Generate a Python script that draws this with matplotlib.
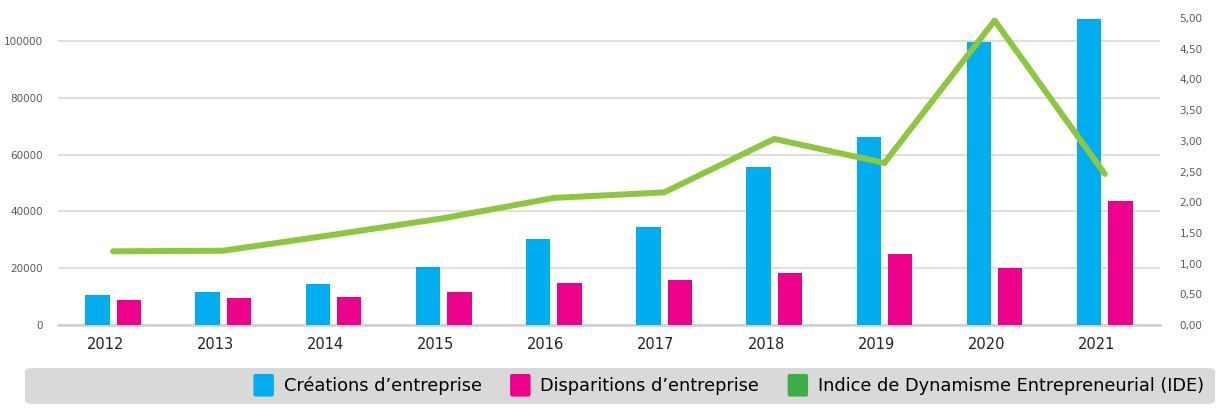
import matplotlib
matplotlib.use("Agg")
import matplotlib.pyplot as plt
import matplotlib.transforms as mtransforms
from matplotlib.patches import FancyBboxPatch, Patch
from matplotlib.legend_handler import HandlerBase
import numpy as np

# data
years = ["2012", "2013", "2014", "2015", "2016", "2017", "2018", "2019", "2020", "2021"]
creations = [10700, 11600, 14600, 20300, 30300, 34500, 55700, 66200, 99800, 107600]
disparitions = [8900, 9600, 9900, 11700, 14800, 15900, 18400, 25100, 20200, 43800]
ide = [1.20, 1.21, 1.47, 1.74, 2.07, 2.16, 3.03, 2.64, 4.96, 2.46]

left_ticks = [0, 20000, 40000, 60000, 80000, 100000]
right_ticks = [0, 0.5, 1, 1.5, 2, 2.5, 3, 3.5, 4, 4.5, 5]

blue = "#00aeef"
pink = "#ec008c"
green_line = "#8dc63f"
green_legend = "#3fae49"


class RoundBoxHandler(HandlerBase):
    # rounded colour swatch for the legend
    def create_artists(self, legend, orig_handle, xdescent, ydescent,
                       width, height, fontsize, trans):
        p = FancyBboxPatch((-xdescent, -ydescent - 2), width, height + 4,
                           boxstyle="round,pad=0,rounding_size=1.5",
                           facecolor=orig_handle.get_facecolor(),
                           edgecolor="none", transform=trans)
        return [p]


fig = plt.figure(figsize=(12.27, 4.18), dpi=100)
ax = fig.add_axes([0.0473, 0.2225, 0.898, 0.7344])

x = np.arange(len(years))
w = 0.221
off = 0.142
ax.bar(x - off, creations, width=w, color=blue, zorder=3)
ax.bar(x + off, disparitions, width=w, color=pink, zorder=3)

ax.set_xlim(-0.5, 9.5)
ax.set_ylim(0, 108100)
ax.set_yticks(left_ticks)
ax.set_yticklabels([str(v) for v in left_ticks])
ax.grid(axis="y", color="#dedede", linewidth=1.4, zorder=0)
ax.set_axisbelow(True)
for s in ["top", "left", "right"]:
    ax.spines[s].set_visible(False)
ax.spines["bottom"].set_color("#cfcfcf")
ax.spines["bottom"].set_linewidth(1.8)
ax.tick_params(axis="y", length=0, pad=11, labelsize=7.5, labelcolor="#5a5a5a")
ax.set_xticks(x)
ax.set_xticklabels(years)
ax.tick_params(axis="x", length=0, pad=9, labelsize=10.5, labelcolor="#222222")
# year labels sit a bit left of the bar pairs
shift = mtransforms.ScaledTranslation(-8 / 100, 0, fig.dpi_scale_trans)
for lab in ax.get_xticklabels():
    lab.set_transform(lab.get_transform() + shift)

ax2 = ax.twinx()
ax2.plot(x, ide, color=green_line, linewidth=4.3, solid_capstyle="round",
         solid_joinstyle="miter", zorder=4)
ax2.set_ylim(0, 5)
ax2.set_yticks(right_ticks)
ax2.set_yticklabels([f"{v:.2f}".replace(".", ",") for v in right_ticks])
ax2.tick_params(axis="y", length=0, pad=14, labelsize=7.5, labelcolor="#5a5a5a")
for s in ax2.spines.values():
    s.set_visible(False)

# legend background strip
bg = FancyBboxPatch((25 / 1227, 14 / 418), 1190 / 1227, 36 / 418,
                    boxstyle="round,pad=0,rounding_size=0.008",
                    transform=fig.transFigure, facecolor="#d9d9d9",
                    edgecolor="none", zorder=0)
fig.patches.append(bg)

handles = [Patch(color=blue), Patch(color=pink), Patch(color=green_legend)]
labels = ["Créations d’entreprise", "Disparitions d’entreprise",
          "Indice de Dynamisme Entrepreneurial (IDE)"]
fig.legend(handles, labels, loc="center right", bbox_to_anchor=(1204 / 1227, 32 / 418),
           ncol=3, frameon=False, fontsize=12.8, handlelength=1.15, handleheight=1.1,
           handletextpad=0.55, columnspacing=1.6, borderaxespad=0, borderpad=0,
           handler_map={Patch: RoundBoxHandler()})

fig.savefig("out.png", dpi=100)
